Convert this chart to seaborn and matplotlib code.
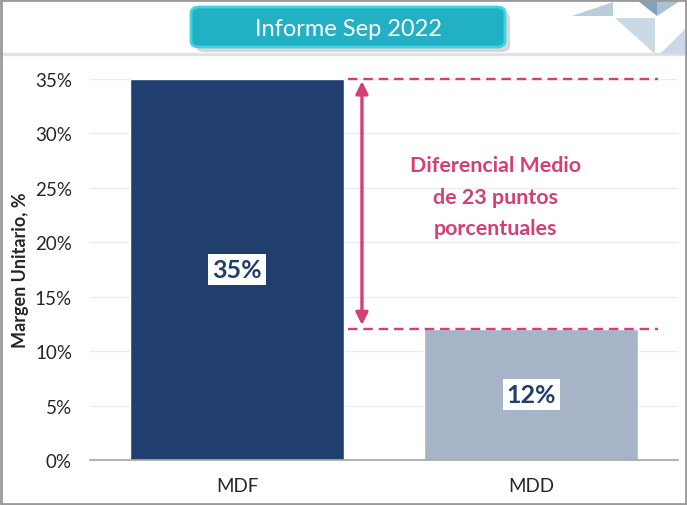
import matplotlib
matplotlib.use("Agg")
import matplotlib.pyplot as plt
import seaborn as sns
import pandas as pd
from matplotlib.patches import FancyBboxPatch, Polygon, Rectangle
from matplotlib.ticker import PercentFormatter

categories = ["MDF", "MDD"]
margins = [0.35, 0.12]
bar_colors = ["#213F6E", "#A7B4C8"]
title = "Informe Sep 2022"
note = "Diferencial Medio\nde 23 puntos\nporcentuales"
pink = "#D63E75"

sns.set_style("white")
plt.rcParams["font.family"] = ["Lato", "DejaVu Sans"]

W, H = 687, 506
fig = plt.figure(figsize=(W / 100, H / 100), dpi=100)

def fx(px):
    return px / W

def fy(py):
    return 1 - py / H

ax = fig.add_axes([fx(90), fy(461), fx(678) - fx(90), fy(80) - fy(461)])

df = pd.DataFrame({"cat": categories, "val": margins})
sns.barplot(data=df, x="cat", y="val", hue="cat", palette=bar_colors,
            width=0.73, ax=ax, legend=False, saturation=1)

ax.set_ylim(0, 0.35)
ax.set_xlim(-0.5, 1.5)
ax.set_yticks([i * 0.05 for i in range(8)])
ax.yaxis.set_major_formatter(PercentFormatter(1.0, decimals=0))
ax.yaxis.grid(True, color="#ECECEC", linewidth=1)
ax.set_axisbelow(True)
for s in ["top", "right", "left"]:
    ax.spines[s].set_visible(False)
ax.spines["bottom"].set_color("#A6A6A6")
ax.spines["bottom"].set_linewidth(1.2)
ax.tick_params(axis="both", length=0, labelsize=13.5, colors="#262626")
ax.tick_params(axis="y", pad=13)
ax.tick_params(axis="x", pad=12)
ax.set_xlabel("")
ax.set_ylabel("Margen Unitario, %", fontsize=13, fontweight="bold", labelpad=4)

# value labels in white boxes
for i, v in enumerate(margins):
    ax.text(i, v / 2, f"{v * 100:.0f}%", ha="center", va="center",
            fontsize=18, fontweight="bold", color="#213F6E",
            bbox=dict(boxstyle="square,pad=0.15", fc="white", ec="none"))

# difference annotation
x0, x1 = 0.378, 1.432
ax.plot([x0, x1], [margins[0]] * 2, ls=(0, (4, 2.5)), color=pink, lw=1.7, clip_on=False)
ax.plot([x0, x1], [margins[1]] * 2, ls=(0, (4, 2.5)), color=pink, lw=1.7, clip_on=False)
ax.annotate("", xy=(0.425, margins[0] - 0.002), xytext=(0.425, margins[1] + 0.004),
            arrowprops=dict(arrowstyle="<|-|>", color=pink, lw=2.4,
                            mutation_scale=18, shrinkA=0, shrinkB=0))
ax.text(0.878, 0.242, note, ha="center", va="center", fontsize=15.4,
        fontweight="bold", color=pink, linespacing=1.7)

# header decorations
fig.patches.append(Rectangle((0, fy(56)), 1, fy(55) - fy(56) + 0.002,
                             transform=fig.transFigure, color="#E2E2E2", zorder=0))
tri = [
    ([(572, 17), (613, 3), (613, 17)], "#B9CDDC"),
    ([(638, 2), (657, 2), (657, 17)], "#7FA4C0"),
    ([(657, 2), (680, 2), (657, 17)], "#A9C1D3"),
    ([(615, 19), (655, 19), (655, 55)], "#C9D9E5"),
    ([(660, 55), (685, 30), (685, 55)], "#C9D9E5"),
]
for pts, c in tri:
    fig.patches.append(Polygon([(fx(a), fy(b)) for a, b in pts], closed=True,
                               transform=fig.transFigure, fc=c, ec="none"))

# title pill with shadow
fig.patches.append(FancyBboxPatch((fx(196), fy(53)), fx(505) - fx(191), fy(8) - fy(48),
                                  boxstyle="round,pad=0,rounding_size=0.012",
                                  transform=fig.transFigure, fc="#BDBDBD", ec="none", alpha=0.6))
fig.patches.append(FancyBboxPatch((fx(191), fy(48)), fx(505) - fx(191), fy(8) - fy(48),
                                  boxstyle="round,pad=0,rounding_size=0.012",
                                  transform=fig.transFigure, fc="#22B1C4", ec="#39D5E6", lw=2))
fig.text(fx(348), fy(29), title, ha="center", va="center", fontsize=17, color="white")

# outer frame
fig.patches.append(Rectangle((0.001, 0.001), 0.997, 0.997, transform=fig.transFigure,
                             fill=False, ec="#9A9A9A", lw=2))

fig.savefig("out.png", dpi=100)
